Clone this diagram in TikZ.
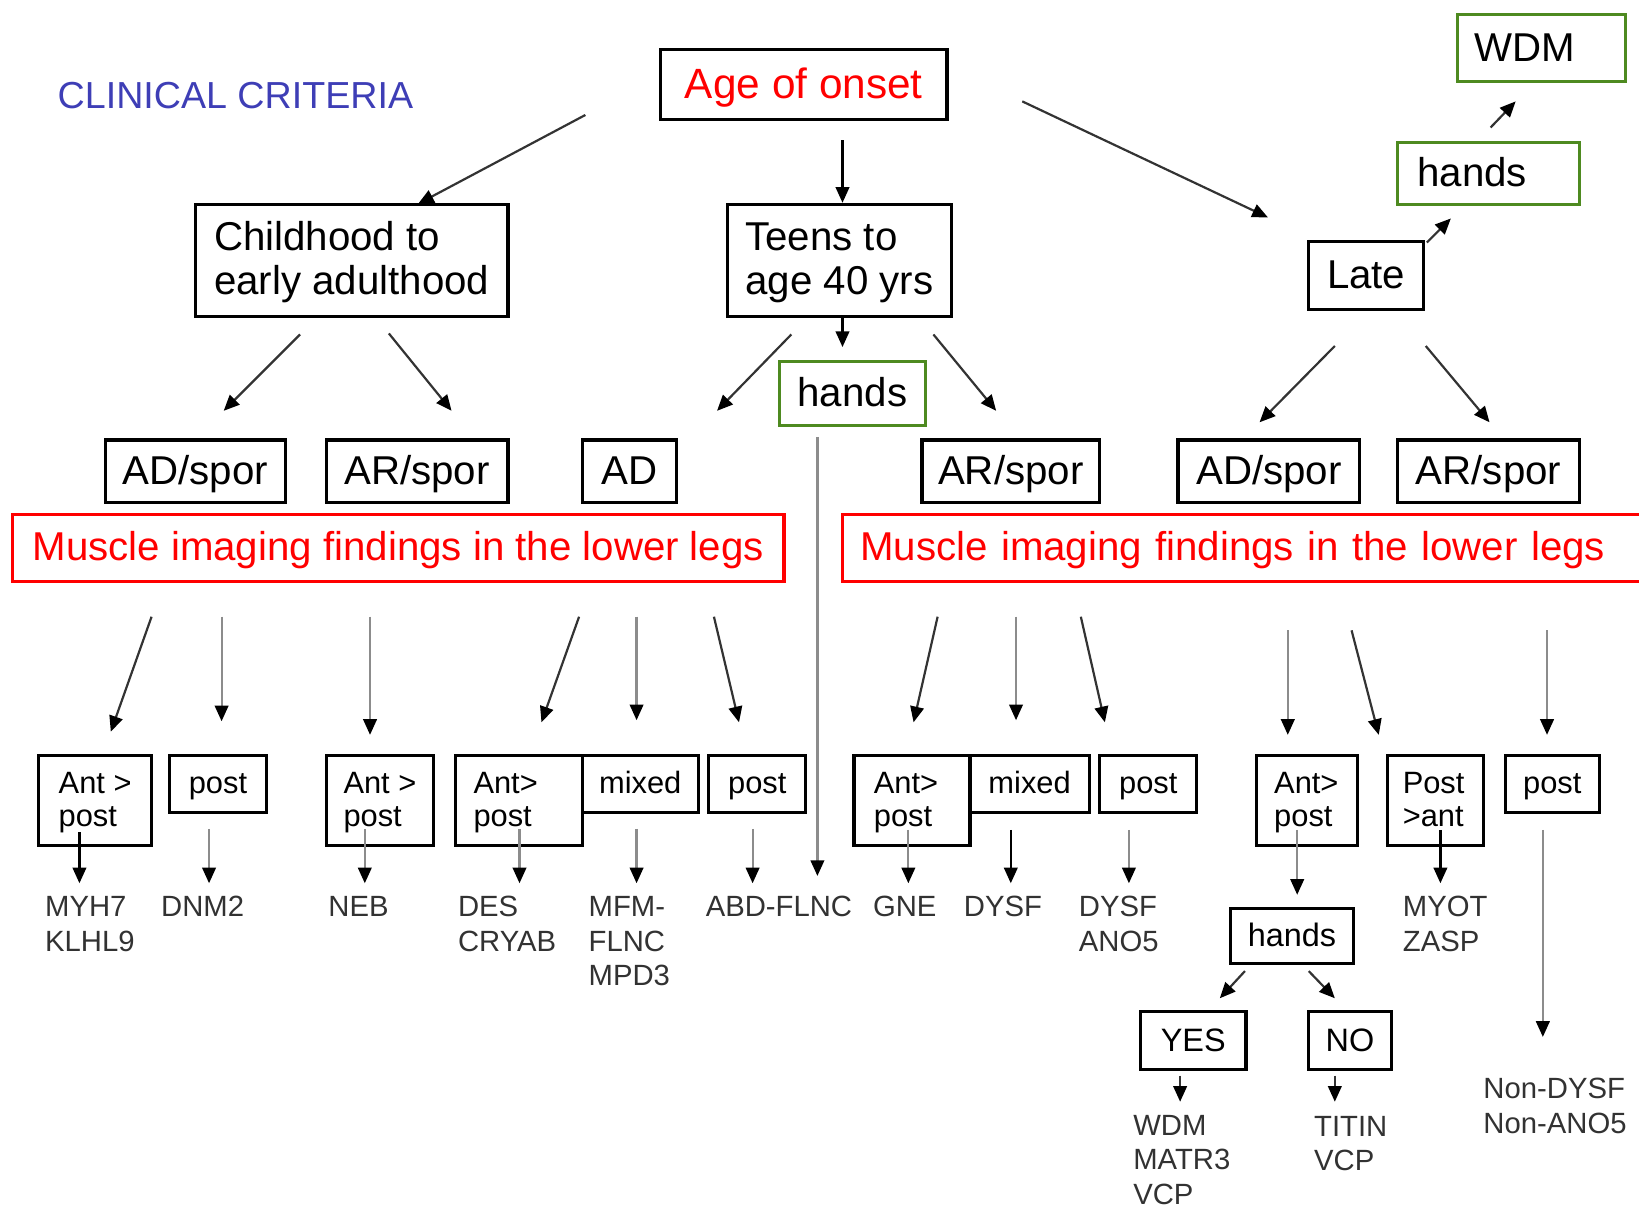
\documentclass[tikz,border=0pt]{standalone}
\usepackage{fontspec}
\setmainfont{Liberation Sans}
\usetikzlibrary{arrows.meta}

\definecolor{boxgreen}{RGB}{78,138,32}
\definecolor{titleblue}{RGB}{62,62,182}
\definecolor{genegray}{RGB}{50,50,50}

\tikzset{
  box/.style={draw=black, line width=3pt, inner sep=0pt, align=left},
  redbox/.style={draw=red, line width=3pt, inner sep=0pt, text=red},
  greenbox/.style={draw=boxgreen, line width=3pt, inner sep=0pt, align=left},
  % single-line and two-line text settings, with fixed strut sizes
  bigtext/.style={font=\fontsize{38.5}{42.5}\selectfont, text height=31pt, text depth=6pt},
  bigtwo/.style={font=\fontsize{38.5}{42.5}\selectfont, text height=73pt, text depth=8pt},
  midtext/.style={font=\fontsize{31}{34}\selectfont, text height=22pt, text depth=2pt},
  smalltext/.style={font=\fontsize{29.5}{32}\selectfont, text height=22pt, text depth=3pt},
  smalltwo/.style={font=\fontsize{29.5}{32}\selectfont, text height=56pt, text depth=6pt},
  % two-line text set in a fixed text width (the box hangs from its first line)
  smalltwow/.style={font=\fontsize{29.5}{32}\selectfont, text height=24pt, text depth=38pt},
  gene/.style={font=\fontsize{28}{33}\selectfont, text=genegray, inner sep=0pt,
    anchor=base west, align=left},
  link/.style={draw=black!80, line width=2.1pt, -{Triangle[length=15pt,width=13pt,color=black]}},
  greylink/.style={draw=black!45, line width=2.1pt, -{Triangle[length=15pt,width=13pt,color=black]}},
}

\begin{document}
\begin{tikzpicture}[x=1pt,y=-1pt]
\useasboundingbox (0,0) rectangle (1568,1155);

% heading
\node[font=\fontsize{36}{40}\selectfont, text=titleblue, anchor=base west, inner sep=0pt]
  (crit) at (55,104) {CLINICAL CRITERIA};

% age of onset and its three groups
\node[box, text=red, font=\fontsize{40.5}{44}\selectfont, text height=31pt, text depth=4pt,
  minimum width=274pt, minimum height=67pt]
  (onset) at (769,80.5) {Age of onset};
\node[box, bigtwo, minimum width=299pt, minimum height=107pt]
  (child) at (336.5,249.5) {Childhood to\\early adulthood};
\node[box, bigtwo, minimum width=214pt, minimum height=107pt]
  (teens) at (803,249.5) {Teens to\\age 40 yrs};
\node[box, bigtext, minimum width=110pt, minimum height=65pt]
  (late) at (1307,263.5) {Late};
\node[greenbox, bigtext, minimum width=174pt, minimum height=60pt, text width=136pt, inner xsep=19pt]
  (handsL) at (1424,166) {hands};
\node[greenbox, bigtext, minimum width=161pt, minimum height=64pt, text width=127pt, inner xsep=17pt]
  (wdmL) at (1474.5,46) {WDM};
\node[greenbox, bigtext, minimum width=139pt, minimum height=61pt]
  (handsT) at (815.5,376.5) {hands};

% inheritance row
\node[box, bigtext, minimum width=172pt, minimum height=60pt] (r1) at (187,451) {AD/spor};
\node[box, bigtext, minimum width=174pt, minimum height=60pt] (r2) at (399,451) {AR/spor};
\node[box, bigtext, minimum width=90pt,  minimum height=60pt] (r3) at (602,451) {AD};
\node[box, bigtext, minimum width=170pt, minimum height=60pt] (r4) at (967,451) {AR/spor};
\node[box, bigtext, minimum width=174pt, minimum height=60pt] (r5) at (1214,451) {AD/spor};
\node[box, bigtext, minimum width=174pt, minimum height=60pt] (r6) at (1424,451) {AR/spor};

% imaging bands
\node[redbox, bigtext, minimum width=738pt, minimum height=64pt]
  (mriL) at (381,524) {Muscle imaging findings in the lower legs};
\node[redbox, bigtext, minimum width=766pt, minimum height=64pt, text width=732pt, inner xsep=17pt, align=left]
  (mriR) at (1189,524) {Muscle imaging findings in the lower legs};

% imaging patterns
\node[box, smalltwo,  minimum width=108pt, minimum height=86pt] (b1) at (91,766) {Ant >\\post};
\node[box, smalltext, minimum width=93pt,  minimum height=54pt] (b2) at (208.5,750) {post};
\node[box, smalltwo,  minimum width=103pt, minimum height=86pt] (b3) at (363.5,766) {Ant >\\post};
\node[box, smalltwow, minimum width=121pt, minimum height=86pt, text width=87pt, inner xsep=17pt] (b4) at (496.5,766) {Ant>\\post};
\node[box, smalltext, minimum width=111pt, minimum height=54pt] (b5) at (612.5,750) {mixed};
\node[box, smalltext, minimum width=93pt,  minimum height=54pt] (b6) at (724.5,750) {post};
\node[box, smalltwow, minimum width=111pt, minimum height=86pt, text width=73pt, inner xsep=19pt] (b7) at (872.5,766) {Ant>\\post};
\node[box, smalltext, minimum width=114pt, minimum height=54pt] (b8) at (985,750) {mixed};
\node[box, smalltext, minimum width=93pt,  minimum height=54pt] (b9) at (1098.5,750) {post};
\node[box, smalltwow, minimum width=97pt,  minimum height=86pt, text width=63pt, inner xsep=17pt] (b10) at (1250.5,766) {Ant>\\post};
\node[box, smalltwow, minimum width=92pt,  minimum height=86pt, text width=62pt, inner xsep=15pt] (b11) at (1373,766) {Post\\>ant};
\node[box, smalltext, minimum width=90pt,  minimum height=54pt] (b12) at (1485,750) {post};

\node[box, midtext, minimum width=118pt, minimum height=53pt] (hands2) at (1236,895.5) {hands};
\node[box, midtext, minimum width=101pt, minimum height=55pt] (yes) at (1141.5,995.5) {YES};
\node[box, midtext, minimum width=79pt,  minimum height=55pt] (no) at (1291.5,995.5) {NO};

% genes (placed by the baseline of their last line)
\node[gene] (g1)  at (43,910)   {MYH7\\KLHL9};
\node[gene] (g2)  at (154,877)  {DNM2};
\node[gene] (g3)  at (314,877)  {NEB};
\node[gene] (g4)  at (438,910)  {DES\\CRYAB};
\node[gene] (g5)  at (563,943)  {MFM-\\FLNC\\MPD3};
\node[gene] (g6)  at (675,877)  {ABD-FLNC};
\node[gene] (g7)  at (835,877)  {GNE};
\node[gene] (g8)  at (922,877)  {DYSF};
\node[gene] (g9)  at (1032,910) {DYSF\\ANO5};
\node[gene] (g10) at (1342,910) {MYOT\\ZASP};
\node[gene] (g11) at (1084,1152) {WDM\\MATR3\\VCP};
\node[gene] (g12) at (1257,1120) {TITIN\\VCP};
\node[gene] (g13) at (1419,1084) {Non-DYSF\\Non-ANO5};

% connector ends
\coordinate (a1s) at (560,110);   \coordinate (a1e) at (400,195);
\coordinate (a2s) at (806,134);   \coordinate (a2e) at (806,194);
\coordinate (a3s) at (978,97);    \coordinate (a3e) at (1213,208);
\coordinate (a4s) at (1365,232);  \coordinate (a4e) at (1388,209);
\coordinate (a5s) at (1426,122);  \coordinate (a5e) at (1450,97);
\coordinate (a6s) at (287,320);   \coordinate (a6e) at (214,393);
\coordinate (a7s) at (372,319);   \coordinate (a7e) at (432,393);
\coordinate (a8s) at (757,320);   \coordinate (a8e) at (686,393);
\coordinate (a9s) at (806,304);   \coordinate (a9e) at (806,332);
\coordinate (a10s) at (893,320);  \coordinate (a10e) at (953,393);
\coordinate (a11s) at (1277,331); \coordinate (a11e) at (1205,404);
\coordinate (a12s) at (1364,331); \coordinate (a12e) at (1425,404);
\coordinate (a13s) at (782,418);  \coordinate (a13e) at (782,838);

\coordinate (p1s) at (145,590);   \coordinate (p1e) at (106,700);
\coordinate (p2s) at (212,590);   \coordinate (p2e) at (212,690);
\coordinate (p3s) at (354,590);   \coordinate (p3e) at (354,703);
\coordinate (p4s) at (554,590);   \coordinate (p4e) at (518,691);
\coordinate (p5s) at (609,590);   \coordinate (p5e) at (609,689);
\coordinate (p6s) at (683,590);   \coordinate (p6e) at (707,691);
\coordinate (p7s) at (897,590);   \coordinate (p7e) at (874,691);
\coordinate (p8s) at (972,590);   \coordinate (p8e) at (972,689);
\coordinate (p9s) at (1034,590);  \coordinate (p9e) at (1057,691);
\coordinate (p10s) at (1232,603); \coordinate (p10e) at (1232,703);
\coordinate (p11s) at (1293,603); \coordinate (p11e) at (1319,703);
\coordinate (p12s) at (1480,603); \coordinate (p12e) at (1480,703);

\coordinate (q1s) at (76,796);    \coordinate (q1e) at (76,845);
\coordinate (q2s) at (200,793);   \coordinate (q2e) at (200,845);
\coordinate (q3s) at (349,793);   \coordinate (q3e) at (349,845);
\coordinate (q4s) at (497,793);   \coordinate (q4e) at (497,845);
\coordinate (q5s) at (609,793);   \coordinate (q5e) at (609,845);
\coordinate (q6s) at (720,793);   \coordinate (q6e) at (720,845);
\coordinate (q7s) at (869,794);   \coordinate (q7e) at (869,845);
\coordinate (q8s) at (967,794);   \coordinate (q8e) at (967,845);
\coordinate (q9s) at (1080,794);  \coordinate (q9e) at (1080,845);
\coordinate (q10s) at (1241,794); \coordinate (q10e) at (1241,856);
\coordinate (q11s) at (1378,794); \coordinate (q11e) at (1378,845);
\coordinate (q12s) at (1476,794); \coordinate (q12e) at (1476,992);
\coordinate (h1s) at (1191,929);  \coordinate (h1e) at (1167,955);
\coordinate (h2s) at (1252,929);  \coordinate (h2e) at (1277,955);
\coordinate (h3s) at (1129,1029); \coordinate (h3e) at (1129,1054);
\coordinate (h4s) at (1277,1029); \coordinate (h4e) at (1277,1054);

% upper connectors
\draw[link] (a1s) -- (a1e);
\draw[link, draw=black] (a2s) -- (a2e);
\draw[link] (a3s) -- (a3e);
\draw[link] (a4s) -- (a4e);
\draw[link] (a5s) -- (a5e);
\draw[link] (a6s) -- (a6e);
\draw[link] (a7s) -- (a7e);
\draw[link] (a8s) -- (a8e);
\draw[link, draw=black] (a9s) -- (a9e);
\draw[link] (a10s) -- (a10e);
\draw[link] (a11s) -- (a11e);
\draw[link] (a12s) -- (a12e);
\draw[greylink] (a13s) -- (a13e);

% imaging to pattern connectors
\draw[link] (p1s) -- (p1e);
\draw[greylink] (p2s) -- (p2e);
\draw[greylink] (p3s) -- (p3e);
\draw[link] (p4s) -- (p4e);
\draw[greylink] (p5s) -- (p5e);
\draw[link] (p6s) -- (p6e);
\draw[link] (p7s) -- (p7e);
\draw[greylink] (p8s) -- (p8e);
\draw[link] (p9s) -- (p9e);
\draw[greylink] (p10s) -- (p10e);
\draw[link] (p11s) -- (p11e);
\draw[greylink] (p12s) -- (p12e);

% pattern to gene connectors
\draw[link, draw=black] (q1s) -- (q1e);
\draw[greylink] (q2s) -- (q2e);
\draw[greylink] (q3s) -- (q3e);
\draw[greylink] (q4s) -- (q4e);
\draw[greylink] (q5s) -- (q5e);
\draw[greylink] (q6s) -- (q6e);
\draw[greylink] (q7s) -- (q7e);
\draw[link, draw=black] (q8s) -- (q8e);
\draw[greylink] (q9s) -- (q9e);
\draw[greylink] (q10s) -- (q10e);
\draw[link, draw=black] (q11s) -- (q11e);
\draw[greylink] (q12s) -- (q12e);
\draw[link] (h1s) -- (h1e);
\draw[link] (h2s) -- (h2e);
\draw[link] (h3s) -- (h3e);
\draw[link] (h4s) -- (h4e);
\end{tikzpicture}
\end{document}
